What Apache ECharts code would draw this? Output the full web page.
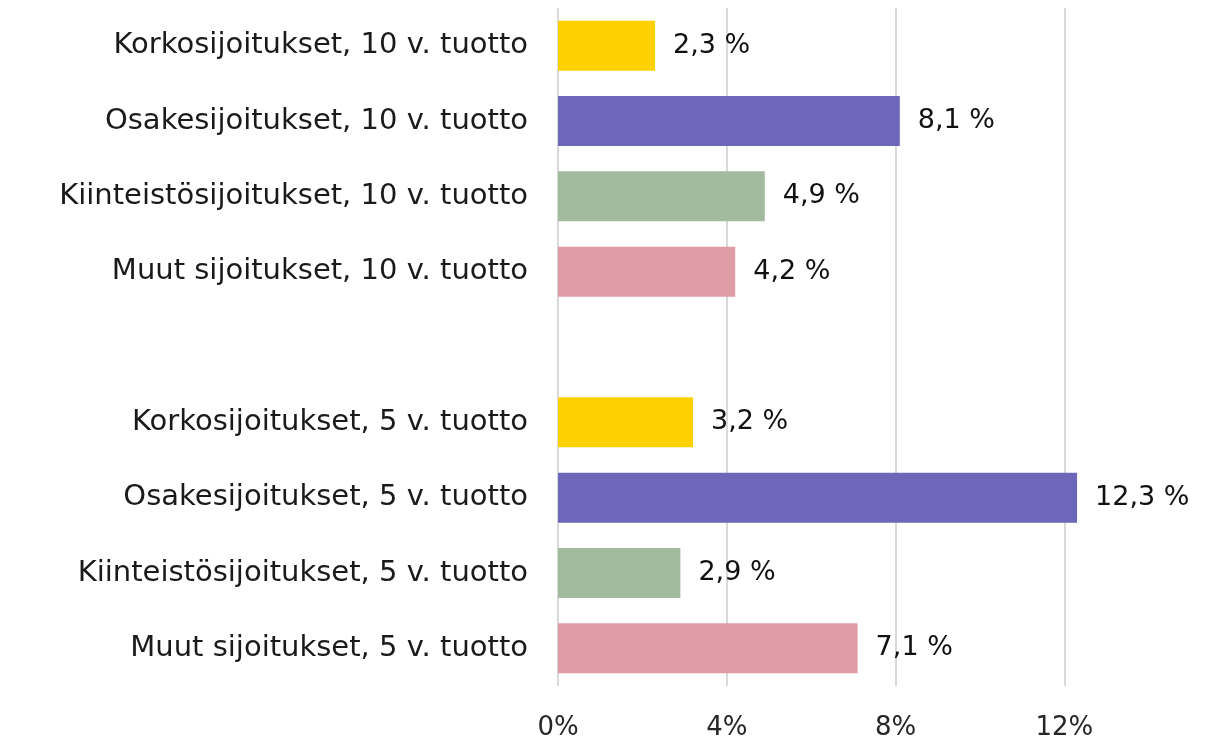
<!DOCTYPE html>
<html>
<head>
<meta charset="utf-8">
<script src="https://cdn.jsdelivr.net/npm/echarts@6/dist/echarts.min.js"></script>
<style>
  html, body { margin: 0; padding: 0; background: #fff; }
  #chart { width: 1209px; height: 741px; }
</style>
</head>
<body>
<div id="chart"></div>
<script>
// categories top to bottom, '' is the empty gap row
const categories = [
  'Korkosijoitukset, 10 v. tuotto',
  'Osakesijoitukset, 10 v. tuotto',
  'Kiinteistösijoitukset, 10 v. tuotto',
  'Muut sijoitukset, 10 v. tuotto',
  '',
  'Korkosijoitukset, 5 v. tuotto',
  'Osakesijoitukset, 5 v. tuotto',
  'Kiinteistösijoitukset, 5 v. tuotto',
  'Muut sijoitukset, 5 v. tuotto'
]
const values = [2.3, 8.1, 4.9, 4.2, null, 3.2, 12.3, 2.9, 7.1]
const barColors = ['#FFD100', '#6C67B8', '#A2BA9E', '#E09CA5', '#fff', '#FFD100', '#6C67B8', '#A2BA9E', '#E09CA5']
const xTicks = [0, 4, 8, 12]

const font = '"DejaVu Sans", sans-serif'

const chart = echarts.init(document.getElementById('chart'), null, { renderer: 'canvas' })
chart.setOption({
  animation: false,
  grid: { left: 558, top: 8, right: 18, height: 678, containLabel: false },
  xAxis: {
    type: 'value',
    min: 0,
    max: 15,
    interval: 4,
    axisLine: { show: false },
    axisTick: { show: false },
    axisLabel: {
      margin: 29,
      fontSize: 26,
      fontFamily: font,
      color: '#262626',
      showMaxLabel: false,
      formatter: v => (xTicks.indexOf(v) >= 0 ? v + '%' : '')
    },
    splitLine: { show: true, showMaxLine: false, lineStyle: { color: '#d9d9d9', width: 2 } }
  },
  yAxis: {
    type: 'category',
    inverse: true,
    data: categories,
    axisLine: { show: false },
    axisTick: { show: false },
    axisLabel: {
      margin: 30,
      fontSize: 29,
      fontFamily: font,
      color: '#1a1a1a'
    }
  },
  series: [{
    type: 'bar',
    barWidth: 50,
    data: values.map((v, i) => ({ value: v, itemStyle: { color: barColors[i] } })),
    label: {
      show: true,
      position: 'right',
      distance: 18,
      fontSize: 27,
      fontWeight: 500,
      fontFamily: font,
      color: '#111',
      formatter: p => (p.value == null ? '' : String(p.value.toFixed(1)).replace('.', ',') + ' %')
    }
  }]
})
window.addEventListener('resize', () => chart.resize())
</script>
</body>
</html>
